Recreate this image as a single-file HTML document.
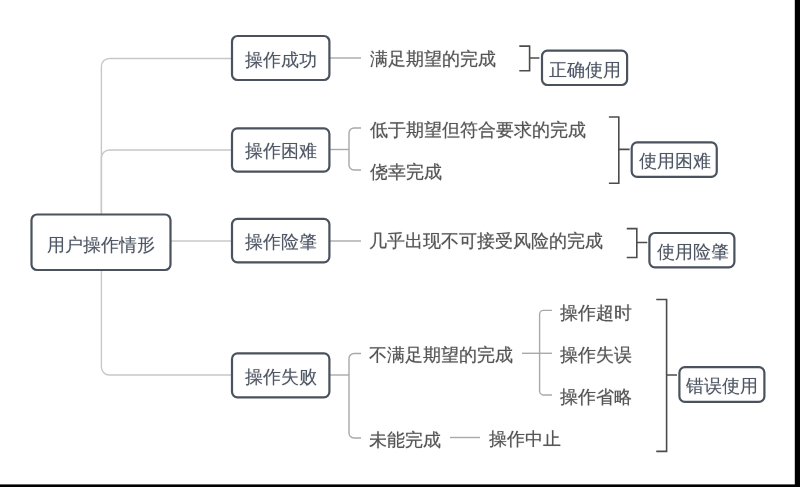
<!DOCTYPE html><html><head><meta charset="utf-8"><style>
html,body{margin:0;padding:0;background:#fff;width:800px;height:487px;overflow:hidden}
body{position:relative;font-family:"Liberation Sans",sans-serif}
.t{position:absolute;font-size:18px;line-height:18px;white-space:nowrap;will-change:transform}
</style></head><body>
<div id="w" style="position:absolute;left:0;top:0;width:800px;height:487px">
<svg width="800" height="487" viewBox="0 0 800 487" style="position:absolute;left:0;top:0">
<path d="M101.4,214 L101.4,66.5 A8,8 0 0 1 109.4,58.5 L231,58.5" fill="none" stroke="#c8c8c8" stroke-width="1.4"/>
<path d="M101.4,214 L101.4,158 A8,8 0 0 1 109.4,150 L231,150" fill="none" stroke="#c8c8c8" stroke-width="1.4"/>
<path d="M101.4,271 L101.4,367 A8,8 0 0 0 109.4,375 L231,375" fill="none" stroke="#c8c8c8" stroke-width="1.4"/>
<path d="M171,241 L231,241" fill="none" stroke="#c8c8c8" stroke-width="1.4"/>
<path d="M330,58 L361,58" fill="none" stroke="#a9a9a9" stroke-width="1.4"/>
<path d="M330,149.5 L349,149.5" fill="none" stroke="#a9a9a9" stroke-width="1.4"/>
<path d="M361,128 L354,128 A5,5 0 0 0 349,133 L349,165 A5,5 0 0 0 354,170 L361,170" fill="none" stroke="#a9a9a9" stroke-width="1.4"/>
<path d="M330,241 L361,241" fill="none" stroke="#a9a9a9" stroke-width="1.4"/>
<path d="M330,375 L349,375" fill="none" stroke="#a9a9a9" stroke-width="1.4"/>
<path d="M361,353.5 L354,353.5 A5,5 0 0 0 349,358.5 L349,433 A5,5 0 0 0 354,438 L361,438" fill="none" stroke="#a9a9a9" stroke-width="1.4"/>
<path d="M522,353.3 L552,353.3" fill="none" stroke="#a9a9a9" stroke-width="1.4"/>
<path d="M552,310.4 L543.6,310.4 A4,4 0 0 0 539.6,314.4 L539.6,391 A4,4 0 0 0 543.6,395 L552,395" fill="none" stroke="#a9a9a9" stroke-width="1.4"/>
<path d="M450,437.5 L480,437.5" fill="none" stroke="#a9a9a9" stroke-width="1.4"/>
<path d="M519.3,46.1 L529.6,46.1 L529.6,70.7 L519.3,70.7 M529.6,58 L539.4,58" fill="none" stroke="#4c4c4c" stroke-width="1.6"/>
<path d="M608.9,117 L618.8,117 L618.8,183.3 L608.9,183.3 M618.8,149.4 L629.6,149.4" fill="none" stroke="#4c4c4c" stroke-width="1.6"/>
<path d="M626.75,228.6 L636.8,228.6 L636.8,257.5 L626.75,257.5 M636.8,242.5 L647.3,242.5" fill="none" stroke="#4c4c4c" stroke-width="1.6"/>
<path d="M656.25,299.5 L666.6,299.5 L666.6,451.4 L656.25,451.4 M666.6,375 L677,375" fill="none" stroke="#4c4c4c" stroke-width="1.6"/>
<rect x="31.5" y="214.5" width="139" height="55.5" rx="5.5" ry="5.5" fill="#fff" stroke="#4a525d" stroke-width="2.2"/>
<rect x="232" y="36" width="97.4" height="44" rx="5.5" ry="5.5" fill="#fff" stroke="#4a525d" stroke-width="2.2"/>
<rect x="232" y="128.4" width="97.4" height="43.2" rx="5.5" ry="5.5" fill="#fff" stroke="#4a525d" stroke-width="2.2"/>
<rect x="232" y="218.85" width="97.4" height="43.45" rx="5.5" ry="5.5" fill="#fff" stroke="#4a525d" stroke-width="2.2"/>
<rect x="232" y="353.4" width="97.4" height="43.9" rx="5.5" ry="5.5" fill="#fff" stroke="#4a525d" stroke-width="2.2"/>
<rect x="542" y="50.7" width="85.1" height="34.3" rx="5.5" ry="5.5" fill="#fff" stroke="#4a525d" stroke-width="2.2"/>
<rect x="631.7" y="142.4" width="85.05" height="34.5" rx="5.5" ry="5.5" fill="#fff" stroke="#4a525d" stroke-width="2.2"/>
<rect x="649.4" y="233" width="85" height="34.3" rx="5.5" ry="5.5" fill="#fff" stroke="#4a525d" stroke-width="2.2"/>
<rect x="679.4" y="367.2" width="85" height="34.7" rx="5.5" ry="5.5" fill="#fff" stroke="#4a525d" stroke-width="2.2"/>
<rect x="794.8" y="0" width="6" height="487" fill="#000"/>
<rect x="0" y="484.4" width="800" height="3" fill="#000"/>
</svg>
<div class="t" style="left:47px;top:236px;color:#4e5664;text-shadow:0 0 1px #4e566466">用户操作情形</div>
<div class="t" style="left:245px;top:51px;color:#4e5664;text-shadow:0 0 1px #4e566466">操作成功</div>
<div class="t" style="left:245px;top:142px;color:#4e5664;text-shadow:0 0 1px #4e566466">操作困难</div>
<div class="t" style="left:245px;top:233px;color:#4e5664;text-shadow:0 0 1px #4e566466">操作险肇</div>
<div class="t" style="left:245px;top:368px;color:#4e5664;text-shadow:0 0 1px #4e566466">操作失败</div>
<div class="t" style="left:370px;top:50px;color:#555555;-webkit-text-stroke:0.1px #555555;text-shadow:0 0 1px #55555566">满足期望的完成</div>
<div class="t" style="left:370px;top:121px;color:#555555;-webkit-text-stroke:0.1px #555555;text-shadow:0 0 1px #55555566">低于期望但符合要求的完成</div>
<div class="t" style="left:370px;top:163px;color:#555555;-webkit-text-stroke:0.1px #555555;text-shadow:0 0 1px #55555566">侥幸完成</div>
<div class="t" style="left:369px;top:232px;color:#555555;-webkit-text-stroke:0.1px #555555;text-shadow:0 0 1px #55555566">几乎出现不可接受风险的完成</div>
<div class="t" style="left:369px;top:346px;color:#555555;-webkit-text-stroke:0.1px #555555;text-shadow:0 0 1px #55555566">不满足期望的完成</div>
<div class="t" style="left:369px;top:431px;color:#555555;-webkit-text-stroke:0.1px #555555;text-shadow:0 0 1px #55555566">未能完成</div>
<div class="t" style="left:560px;top:304px;color:#555555;-webkit-text-stroke:0.1px #555555;text-shadow:0 0 1px #55555566">操作超时</div>
<div class="t" style="left:560px;top:346px;color:#555555;-webkit-text-stroke:0.1px #555555;text-shadow:0 0 1px #55555566">操作失误</div>
<div class="t" style="left:560px;top:388px;color:#555555;-webkit-text-stroke:0.1px #555555;text-shadow:0 0 1px #55555566">操作省略</div>
<div class="t" style="left:489px;top:430px;color:#555555;-webkit-text-stroke:0.1px #555555;text-shadow:0 0 1px #55555566">操作中止</div>
<div class="t" style="left:549px;top:61px;color:#4e5664;text-shadow:0 0 1px #4e566466">正确使用</div>
<div class="t" style="left:639px;top:152px;color:#4e5664;text-shadow:0 0 1px #4e566466">使用困难</div>
<div class="t" style="left:657px;top:243px;color:#4e5664;text-shadow:0 0 1px #4e566466">使用险肇</div>
<div class="t" style="left:686px;top:377px;color:#4e5664;text-shadow:0 0 1px #4e566466">错误使用</div>
</div>
</body></html>
